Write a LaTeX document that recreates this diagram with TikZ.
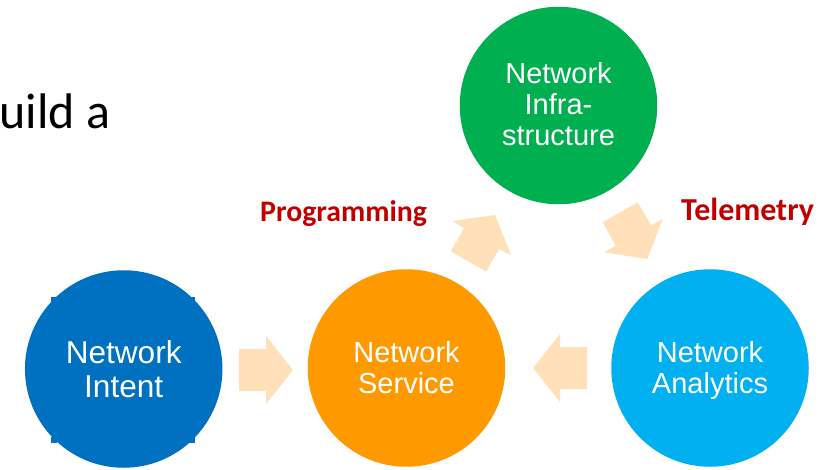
\documentclass[tikz,border=0pt]{standalone}
\usepackage{fontspec}
\setmainfont{Liberation Sans}
\newfontfamily\calfont{Carlito}
\definecolor{cintent}{HTML}{0070C0}
\definecolor{cservice}{HTML}{FF9900}
\definecolor{cinfra}{HTML}{00B050}
\definecolor{cana}{HTML}{00B0F0}
\definecolor{carrow}{HTML}{FFE0B9}
\definecolor{clabel}{HTML}{C00000}
\tikzset{
  circ/.style={circle,minimum size=197.5pt,inner sep=0pt,align=center},
  circtext/.style={text=white,inner sep=0pt,align=center,font=\fontsize{29}{31}\selectfont},
  bigarrow/.style={fill=carrow,draw=none},
  redlabel/.style={text=clabel,inner sep=0pt},
  corner/.style={fill=cintent,draw=none}
}
\begin{document}
\begin{tikzpicture}[x=1pt,y=-1pt]
\useasboundingbox (0,0) rectangle (836,469);
\fill[white] (0,0) rectangle (836,469);
% arrows
\fill[bigarrow] (239,349) -- (266,349) -- (266,336) -- (293,370) -- (266,404) -- (266,391) -- (239,391) -- cycle;
\fill[bigarrow] (587,347) -- (560,347) -- (560,334) -- (533,368) -- (560,402) -- (560,389) -- (587,389) -- cycle;
\fill[bigarrow] (452.7,221) -- (495,215) -- (511,255) -- (499,249) -- (486,271.7) -- (450.7,251.3) -- (464,228.3) -- cycle;
\fill[bigarrow] (662.7,219) -- (647.3,259) -- (604,252.3) -- (615.7,245.7) -- (602.7,222.3) -- (637.7,202.3) -- (651,225.3) -- cycle;
% corner marks
\fill[corner] (51,297) rectangle (57,303);
\fill[corner] (189,297) rectangle (195,303);
\fill[corner] (51,437) rectangle (57,443);
\fill[corner] (189,437) rectangle (195,443);
% circles
\node[circ,fill=cintent] (intent) at (123.7,369) {};
\node[circ,fill=cservice] (service) at (406.5,368) {};
\node[circ,fill=cinfra] (infra) at (558.5,105.5) {};
\node[circ,fill=cana] (analytics) at (710,368) {};
\node[circtext,font=\fontsize{31.6}{34}\selectfont] (intenttext) at (123.7,369) {Network\\Intent};
\node[circtext] (servicetext) at (406.5,367.5) {Network\\Service};
\node[circtext] (infratext) at (558.5,104.5) {Network\\Infra-\\structure};
\node[circtext] (analyticstext) at (710,370) {Network\\Analytics};
% labels
\node[redlabel,anchor=base west,font=\calfont\bfseries\fontsize{29.8}{32}\selectfont] (prog) at (260,221) {Programming};
\node[redlabel,anchor=base west,font=\calfont\bfseries\fontsize{32}{32}\selectfont] (tele) at (681,220) {Telemetry};
\node[anchor=base east,inner sep=0pt,font=\calfont\fontsize{50}{56}\selectfont] (frag) at (110.5,128) {uild a};
\end{tikzpicture}
\end{document}
